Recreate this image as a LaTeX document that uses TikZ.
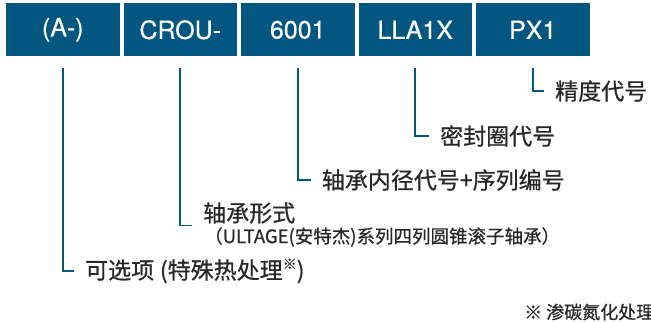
\documentclass[tikz,border=0pt]{standalone}
\usepackage{fontspec}
\setmainfont{Noto Sans CJK SC}[FakeBold=0.6]
\newfontfamily\boxfont{TeX Gyre Heros}[FakeBold=0.4]

\definecolor{codeblue}{RGB}{2,86,128}
\definecolor{labelgray}{RGB}{40,38,40}

\begin{document}
\begin{tikzpicture}[
    x=1pt,y=-1pt,
    codebox/.style={
        fill=codeblue,
        minimum width=113.5pt,
        minimum height=52.7pt,
        inner sep=0pt,
        text=white,
        font=\boxfont\fontsize{25}{25}\selectfont
    },
    lead/.style={
        draw=codeblue,
        line width=1.6pt
    },
    part/.style={
        anchor=west,
        inner sep=0pt,
        text=labelgray,
        font=\fontsize{23}{23}\selectfont
    },
    subpart/.style={
        part,
        font=\fontsize{18.5}{18.5}\selectfont
    },
    footnote/.style={
        part,
        font=\fontsize{18}{18}\selectfont
    }
]
\useasboundingbox (0,0) rectangle (651,323);

% ------------------------------------------------
% Code boxes along the top
% ------------------------------------------------
\foreach \t [count=\i] in {{(A-)},{CROU-},{6001},{LLA1X},{PX1}}
    \node[codebox] (b\i) at ({62.75+117.5*(\i-1)},29.8) {\t};

% ------------------------------------------------
% Labels, stepping down from right to left
% ------------------------------------------------
\node[part] (l5) at (555,91) {精度代号};
\node[part] (l4) at (440,136) {密封圈代号};
\node[part] (l3) at (321.7,180) {轴承内径代号+序列编号};
\node[part] (l2) at (203,213) {轴承形式};
\node[subpart] (l2s) at (204,237) {（ULTAGE(安特杰)系列四列圆锥滚子轴承）};
\node[part] (l1) at (85,271)
    {可选项\hspace{0.25em}(特殊热处理\raisebox{0.42em}{\fontsize{14}{14}\selectfont ※})};

% note, runs off the right edge
\node[footnote] (fn) at (524,312) {※ 渗碳氮化处理};

% ------------------------------------------------
% Leader lines: down from each box, then right
% ------------------------------------------------
\foreach \i in {1,3,4,5}
    \draw[lead] ([yshift=-11.3pt]b\i.south) |- ([xshift=-11pt]l\i.west);
\draw[lead] ([yshift=-11.3pt]b2.south) |- ([xshift=-11pt,yshift=-12.5pt]l2.west);

\end{tikzpicture}
\end{document}
